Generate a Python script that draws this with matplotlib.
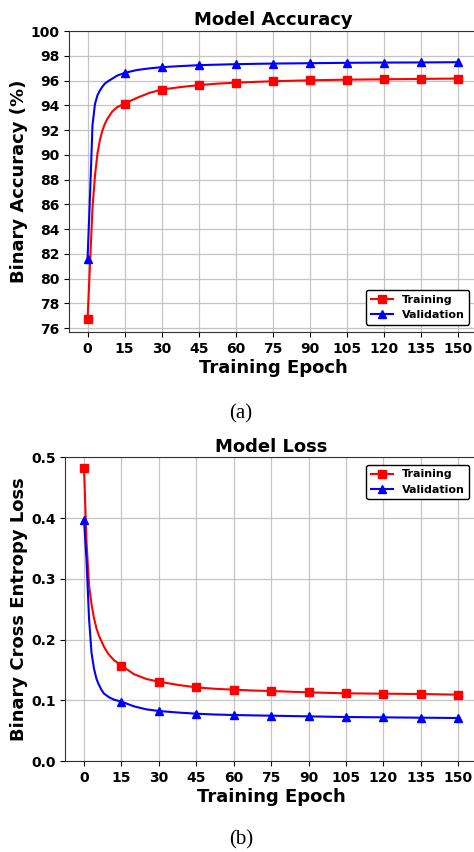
import matplotlib.pyplot as plt
import numpy as np

# epochs at which values were logged for the curves
epochs = [0, 1, 2, 3, 4, 5, 6, 7, 8, 9, 10, 12, 15, 20, 25, 30, 38, 45,
          52, 60, 68, 75, 90, 105, 120, 135, 150]
marker_epochs = [0, 15, 30, 45, 60, 75, 90, 105, 120, 135, 150]

train_acc = [76.7, 81.2, 85.7, 88.3, 90.1, 91.2, 91.95, 92.5, 92.9, 93.2, 93.5,
             93.85, 94.14, 94.6, 95.0, 95.27, 95.48, 95.63, 95.74, 95.83, 95.89,
             95.94, 96.02, 96.07, 96.10, 96.13, 96.16]
val_acc = [81.6, 86.7, 92.4, 94.1, 94.8, 95.2, 95.5, 95.75, 95.9, 96.03, 96.15,
           96.4, 96.62, 96.85, 96.98, 97.08, 97.17, 97.24, 97.28, 97.32, 97.35,
           97.37, 97.40, 97.43, 97.45, 97.46, 97.48]

train_loss = [0.482, 0.36, 0.29, 0.258, 0.235, 0.218, 0.206, 0.197, 0.188, 0.181,
              0.175, 0.166, 0.157, 0.143, 0.135, 0.1306, 0.125, 0.1213, 0.119,
              0.1174, 0.116, 0.1152, 0.1130, 0.1114, 0.1108, 0.1103, 0.1092]
val_loss = [0.397, 0.33, 0.235, 0.178, 0.152, 0.135, 0.125, 0.117, 0.111, 0.108,
            0.105, 0.101, 0.0977, 0.090, 0.085, 0.0823, 0.0797, 0.0779, 0.0766,
            0.0757, 0.0751, 0.0746, 0.0735, 0.0724, 0.0719, 0.0713, 0.0708]

xticks = list(range(0, 151, 15))
mark_idx = [epochs.index(e) for e in marker_epochs]

fig = plt.figure(figsize=(4.74, 8.52), dpi=100)
ax1 = fig.add_axes([0.1456, 0.6100, 0.8603, 0.3536])
ax2 = fig.add_axes([0.1378, 0.1068, 0.8686, 0.3565])


def draw(ax, train, val, title, ylabel, loc):
    ax.plot(epochs, train, color='red', marker='s', markersize=6, lw=1.5,
            markevery=mark_idx, label='Training')
    ax.plot(epochs, val, color='blue', marker='^', markersize=6, lw=1.5,
            markevery=mark_idx, label='Validation')
    ax.set_xticks(xticks)
    ax.grid(True, color='#c4c4c4', lw=0.9)
    ax.set_axisbelow(True)
    ax.set_title(title, fontsize=13, fontweight='bold', pad=4)
    ax.set_xlabel('Training Epoch', fontsize=13, fontweight='bold', labelpad=2)
    ax.set_ylabel(ylabel, fontsize=13, fontweight='bold', labelpad=2)
    for lbl in ax.get_xticklabels() + ax.get_yticklabels():
        lbl.set_fontweight('bold')
        lbl.set_fontsize(10)
    for s in ax.spines.values():
        s.set_color('#333333')
    leg = ax.legend(loc=loc, prop={'weight': 'bold', 'size': 8},
                    framealpha=1, borderaxespad=0.7)
    leg.get_frame().set_edgecolor('black')


draw(ax1, train_acc, val_acc, 'Model Accuracy', 'Binary Accuracy (%)', 'lower right')
ax1.set_ylim(top=100)
ax1.set_yticks(np.arange(76, 101, 2))

draw(ax2, train_loss, val_loss, 'Model Loss', 'Binary Cross Entropy Loss', 'upper right')
ax2.set_ylim(0, 0.5)
ax2.set_yticks([0.0, 0.1, 0.2, 0.3, 0.4, 0.5])
for lbl in ax2.get_yticklabels():
    lbl.set_fontweight('bold')

fig.text(241 / 474, 1 - 414 / 852, '(a)', family='Liberation Serif', fontsize=15,
         ha='center', va='center')
fig.text(241 / 474, 1 - 840 / 852, '(b)', family='Liberation Serif', fontsize=15,
         ha='center', va='center')

fig.savefig('out.png', dpi=100)
